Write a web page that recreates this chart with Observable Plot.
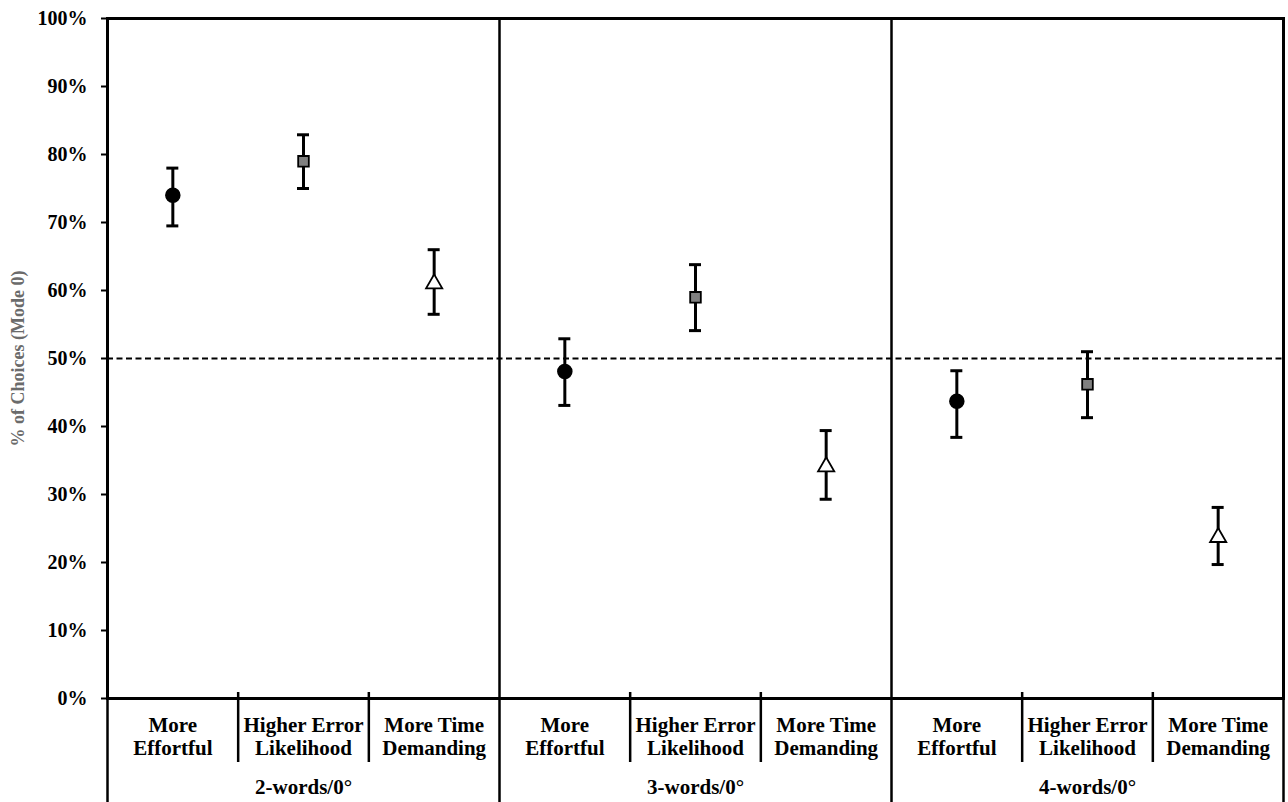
<!DOCTYPE html>
<html>
<head>
<meta charset="utf-8">
<script src="https://cdn.jsdelivr.net/npm/d3@7"></script>
<script src="https://cdn.jsdelivr.net/npm/@observablehq/plot@0.6"></script>
<style>
  html, body { margin: 0; padding: 0; background: #fff; }
</style>
</head>
<body>
<div id="chart"></div>
<script>
// Groups (conditions) and categories (judgement type)
const groups = ["2-words/0°", "3-words/0°", "4-words/0°"];
const categories = ["More\nEffortful", "Higher Error\nLikelihood", "More Time\nDemanding"];

// Mean % of choices for Mode 0, per category, across the three groups
const effortfulMean = [74.0, 48.1, 43.7];
const errorMean     = [79.0, 59.0, 46.2];
const timeMean      = [61.0, 34.1, 23.7];

// Error bar bounds
const effortfulLow  = [69.5, 43.1, 38.4];
const effortfulHigh = [78.0, 52.9, 48.2];
const errorLow      = [75.0, 54.1, 41.3];
const errorHigh     = [82.9, 63.8, 51.0];
const timeLow       = [56.5, 29.3, 19.7];
const timeHigh      = [66.0, 39.4, 28.1];

const yTicks = [0, 10, 20, 30, 40, 50, 60, 70, 80, 90, 100];
const yLabel = "% of Choices (Mode 0)";
const chanceLevel = [50];

const FONT = "'Liberation Serif', 'Times New Roman', serif";

const series = [
  {mean: effortfulMean, low: effortfulLow, high: effortfulHigh},
  {mean: errorMean, low: errorLow, high: errorHigh},
  {mean: timeMean, low: timeLow, high: timeHigh}
];

const rows = groups.flatMap((g, gi) => categories.map((c, ci) => ({
  group: g, cat: c, ci, pos: gi * categories.length + ci + 0.5,
  mean: series[ci].mean[gi], low: series[ci].low[gi], high: series[ci].high[gi]
})));

const groupRows = groups.map((g, gi) => ({group: g, pos: gi * categories.length + categories.length / 2}));
const groupBounds = d3.range(groups.length + 1).map(i => i * categories.length);
const catBounds = d3.range(1, groups.length * categories.length).filter(i => i % categories.length !== 0);

const chart = Plot.plot({
  width: 1288,
  height: 802,
  marginLeft: 107,
  marginRight: 5,
  marginTop: 18,
  marginBottom: 104,
  style: {fontFamily: FONT, fontSize: "20px", fontWeight: "bold", color: "#000", background: "#fff"},
  x: {type: "linear", domain: [0, groups.length * categories.length], axis: null},
  y: {domain: [0, 100], axis: null},
  marks: [
    Plot.axisY({ticks: yTicks, tickFormat: d => d + "%", tickSize: 6, tickPadding: 14, strokeWidth: 2, label: null, fontFamily: FONT, fontSize: 20, fontWeight: "bold"}),
    Plot.text([yLabel], {frameAnchor: "left", textAnchor: "middle", rotate: -90, dx: -89, fill: "#6b6b6b", fontFamily: FONT, fontSize: 18, fontWeight: "bold"}),
    Plot.ruleY(chanceLevel, {stroke: "#000", strokeWidth: 2, strokeDasharray: "6,3.5"}),
    // group dividers extend below the frame
    Plot.ruleX(groupBounds, {stroke: "#000", strokeWidth: 2.5, insetBottom: -104}),
    // category dividers below the axis
    Plot.ruleX(catBounds, {stroke: "#000", strokeWidth: 2.5, insetTop: 674, insetBottom: -64}),
    Plot.frame({stroke: "#000", strokeWidth: 3}),
    // error bars
    Plot.ruleX(rows, {x: "pos", y1: "low", y2: "high", stroke: "#000", strokeWidth: 3}),
    Plot.ruleY(rows, {y: "low", x1: "pos", x2: "pos", insetLeft: -6, insetRight: -6, stroke: "#000", strokeWidth: 3}),
    Plot.ruleY(rows, {y: "high", x1: "pos", x2: "pos", insetLeft: -6, insetRight: -6, stroke: "#000", strokeWidth: 3}),
    // markers
    Plot.dot(rows.filter(d => d.ci === 0), {x: "pos", y: "mean", symbol: "circle", r: 7, fill: "#000", stroke: "#000"}),
    Plot.dot(rows.filter(d => d.ci === 1), {x: "pos", y: "mean", symbol: "square", r: 6, fill: "#808080", stroke: "#000", strokeWidth: 1.8}),
    Plot.dot(rows.filter(d => d.ci === 2), {x: "pos", y: "mean", symbol: "triangle", r: 6, fill: "#fff", stroke: "#000", strokeWidth: 1.8}),
    // category labels
    Plot.text(rows, {x: "pos", y: () => 0, text: "cat", dy: 38, lineAnchor: "middle", lineHeight: 1.1, fill: "#000", fontFamily: FONT, fontSize: 21, fontWeight: "bold"}),
    // group labels
    Plot.text(groupRows, {x: "pos", y: () => 0, text: "group", dy: 89, lineAnchor: "middle", fill: "#000", fontFamily: FONT, fontSize: 21, fontWeight: "bold"})
  ]
});

document.getElementById("chart").appendChild(chart);
</script>
</body>
</html>
